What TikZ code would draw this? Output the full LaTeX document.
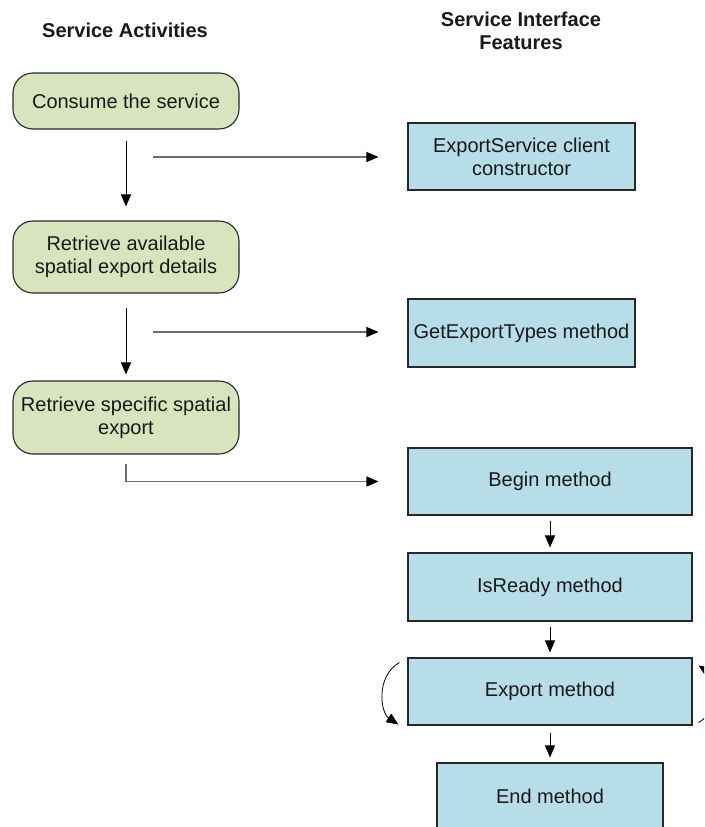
\documentclass[tikz,border=0pt]{standalone}
\usepackage{fontspec}
\setmainfont{Liberation Sans}
\usetikzlibrary{arrows.meta,calc}
\definecolor{actfill}{RGB}{215,228,189}
\definecolor{featfill}{RGB}{183,221,232}
\definecolor{edgeline}{RGB}{40,40,40}
\definecolor{feedline}{RGB}{110,110,110}

\begin{document}
\begin{tikzpicture}[x=1pt,y=-1pt,
  every node/.style={font=\fontsize{20pt}{23pt}\selectfont, text=black!90,
    inner sep=0pt, align=center},
  activity/.style={draw=edgeline, line width=1.1pt, fill=actfill,
    rounded corners=20pt, minimum width=226pt},
  feature/.style={draw=edgeline, line width=1.1pt, fill=featfill},
  heading/.style={font=\fontsize{20pt}{23pt}\selectfont\bfseries},
  flow/.style={line width=1pt, -{Triangle[length=12pt,width=10pt]}},
  feed/.style={line width=1.2pt, draw=feedline,
    -{Triangle[length=12pt,width=10pt,color=black]}}]

\useasboundingbox (0,0) rectangle (704,827);
\clip (0,0) rectangle (704,827);

% column headings
\node[heading, anchor=base] (hact) at (125,37) {Service Activities};
\node[heading] (hfeat) at (521,30.5) {Service Interface\\Features};

% service activities
\node[activity, minimum height=56pt] (g1) at (126,101) {Consume the service};
\node[activity, minimum height=72pt] (g2) at (126,257) {Retrieve available\\spatial export details};
\node[activity, minimum height=73pt] (g3) at (126,417.5) {Retrieve specific spatial\\export};

% service interface features
\node[feature, minimum width=227pt, minimum height=67pt] (b1) at (521.5,156.5) {ExportService client\\constructor};
\node[feature, minimum width=227pt, minimum height=68pt] (b2) at (521.5,333) {GetExportTypes method};
\node[feature, minimum width=284pt, minimum height=67pt] (b3) at (550,481.5) {Begin method};
\node[feature, minimum width=284pt, minimum height=68pt] (b4) at (550,587) {IsReady method};
\node[feature, minimum width=284pt, minimum height=67pt] (b5) at (550,691.5) {Export method};
\node[feature, minimum width=226pt, minimum height=67pt] (b6) at (550,796.5) {End method};

% activity sequence
\draw[flow, shorten <=11pt, shorten >=14pt] (g1.south) -- (g2.north);
\draw[flow, shorten <=14pt, shorten >=6pt] (g2.south) -- (g3.north);

% activities mapped to features
\coordinate (f1) at (153,157);
\coordinate (f2) at (153,332);
\draw[feed, shorten >=29pt] (f1) -- (f1 -| b1.west);
\draw[feed, shorten >=29pt] (f2) -- (f2 -| b2.west);
\draw[feed, shorten >=29pt] ([yshift=-9pt]g3.south) |- (b3.west);

% feature call order
\draw[flow, shorten <=5pt, shorten >=5pt] (b3.south) -- (b4.north);
\draw[flow, shorten <=5pt, shorten >=5pt] (b4.south) -- (b5.north);
\draw[flow, shorten <=7pt, shorten >=5pt] (b5.south) -- (b6.north);

% repeated export calls
\draw[flow, line width=0.8pt] ([shift={(-8pt,-5pt)}]b5.north west)
  .. controls +(-24pt,-14pt) and +(-18pt,12pt) .. ([shift={(-9pt,1pt)}]b5.south west);
\draw[flow, line width=0.8pt] ([shift={(6pt,3pt)}]b5.south east)
  .. controls +(24pt,14pt) and +(18pt,-12pt) .. ([shift={(6pt,-8pt)}]b5.north east);
\end{tikzpicture}
\end{document}
